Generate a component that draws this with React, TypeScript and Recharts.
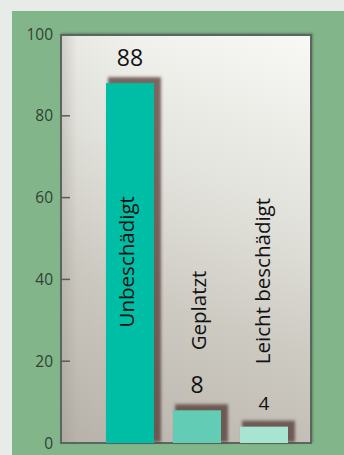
import React from "react";
import { BarChart, Bar, XAxis, YAxis, Cell, LabelList } from "recharts";

// Zustand der Proben (Anteil in Prozent)
const categories = ["Unbeschädigt", "Geplatzt", "Leicht beschädigt"];
const shares = [88, 8, 4];
const yTicks = [0, 20, 40, 60, 80, 100];

const data = categories.map((name, i) => ({ name, value: shares[i] }));

const FONT = "'Open Sans', 'Noto Sans', sans-serif";
const BAR_COLORS = ["#00bea5", "#62ccb5", "#a7e4d1"];
const VALUE_FONT_SIZES = [23, 23, 19];
// Vertical name labels: centre along the bar axis (in value units) and shift of the baseline from the bar centre
const NAME_LAYOUT = [
  { center: 44.3, shift: 4 },
  { center: 32.4, shift: 9.5 },
  { center: 39.6, shift: 6.5 },
];

const CHART_W = 344;
const CHART_H = 455;
const MARGIN = { top: 34, right: 33, bottom: 12, left: 0 };
const Y_AXIS_W = 60;

const ShadowBar = (props: any) => {
  const { x, y, width, height, fill } = props;
  if (width == null || height == null) return null;
  return (
    <g>
      <rect
        x={x + 2}
        y={y - 6}
        width={width + 5}
        height={height + 5}
        fill="#4a2f28"
        fillOpacity={0.7}
        filter="url(#barShadowBlur)"
      />
      <rect x={x} y={y} width={width} height={height} fill={fill} />
    </g>
  );
};

const ValueLabel = (props: any) => {
  const { x, y, width, value, index } = props;
  return (
    <text
      x={x + width / 2}
      y={y - 17}
      textAnchor="middle"
      fontFamily={FONT}
      fontSize={VALUE_FONT_SIZES[index] ?? 22}
      fill="#111"
    >
      {value}
    </text>
  );
};

const NameLabel = (props: any) => {
  const { x, y, width, height, index } = props;
  const v = shares[index];
  const bottom = y + height;
  const pxPerUnit = v > 0 ? height / v : 0;
  const layout = NAME_LAYOUT[index];
  const cx = x + width / 2 + layout.shift;
  const cy = bottom - layout.center * pxPerUnit;
  return (
    <text
      x={cx}
      y={cy}
      transform={`rotate(-90, ${cx}, ${cy})`}
      textAnchor="middle"
      fontFamily={FONT}
      fontSize={20.5}
      fill="#111"
    >
      {categories[index]}
    </text>
  );
};

const YTick = (props: any) => {
  const { x, y, payload } = props;
  return (
    <g>
      <text
        x={x}
        y={y}
        dy="0.36em"
        textAnchor="end"
        fontFamily={FONT}
        fontSize={15.5}
        fill="#2f4234"
      >
        {payload.value}
      </text>
      {payload.value !== 0 && payload.value !== 100 && (
        <line x1={x + 8} x2={x + 17} y1={y} y2={y} stroke="#55605a" strokeWidth={1.5} />
      )}
    </g>
  );
};

export default function App() {
  const plotLeft = MARGIN.left + Y_AXIS_W;
  const plotTop = MARGIN.top;
  const plotW = CHART_W - plotLeft - MARGIN.right;
  const plotH = CHART_H - MARGIN.top - MARGIN.bottom;
  return (
    <div
      style={{
        position: "absolute",
        left: 0,
        top: 0,
        width: CHART_W,
        height: CHART_H,
        background: "#e8ece8",
        overflow: "hidden",
        fontFamily: FONT,
      }}
    >
      <svg width={0} height={0} style={{ position: "absolute" }}>
        <defs>
          <filter id="barShadowBlur" x="-30%" y="-30%" width="160%" height="160%">
            <feGaussianBlur stdDeviation={1.8} />
          </filter>
        </defs>
      </svg>
      <div
        style={{
          position: "absolute",
          left: 12,
          top: 11,
          right: 0,
          bottom: 0,
          background: "#82b68a",
        }}
      />
      <div
        style={{
          position: "absolute",
          left: plotLeft,
          top: plotTop,
          width: plotW + 1,
          height: plotH + 1,
          boxSizing: "border-box",
          border: "2px solid #5b665e",
          background:
            "linear-gradient(90deg, rgba(150,145,136,0.35) 0%, rgba(150,145,136,0.05) 6%, rgba(0,0,0,0) 30%), linear-gradient(20deg, #b9b4ab 0%, #cdcac2 35%, #e4e4de 65%, #f8f8f5 100%)",
          boxShadow: "1px -1px 2px rgba(40,50,40,0.35)",
        }}
      />
      <div style={{ position: "absolute", left: 0, top: 0 }}>
        <BarChart width={CHART_W} height={CHART_H} data={data} margin={MARGIN}>
          <XAxis dataKey="name" hide padding={{ left: 36, right: 14 }} />
          <YAxis
            width={Y_AXIS_W}
            domain={[0, 100]}
            ticks={yTicks}
            interval={0}
            axisLine={false}
            tickLine={false}
            tickSize={0}
            tickMargin={7}
            tick={<YTick />}
          />
          <Bar dataKey="value" barSize={48} shape={<ShadowBar />} isAnimationActive={false}>
            {data.map((_, i) => (
              <Cell key={i} fill={BAR_COLORS[i]} />
            ))}
            <LabelList dataKey="value" content={<ValueLabel />} />
            <LabelList dataKey="name" content={<NameLabel />} />
          </Bar>
        </BarChart>
      </div>
    </div>
  );
}
